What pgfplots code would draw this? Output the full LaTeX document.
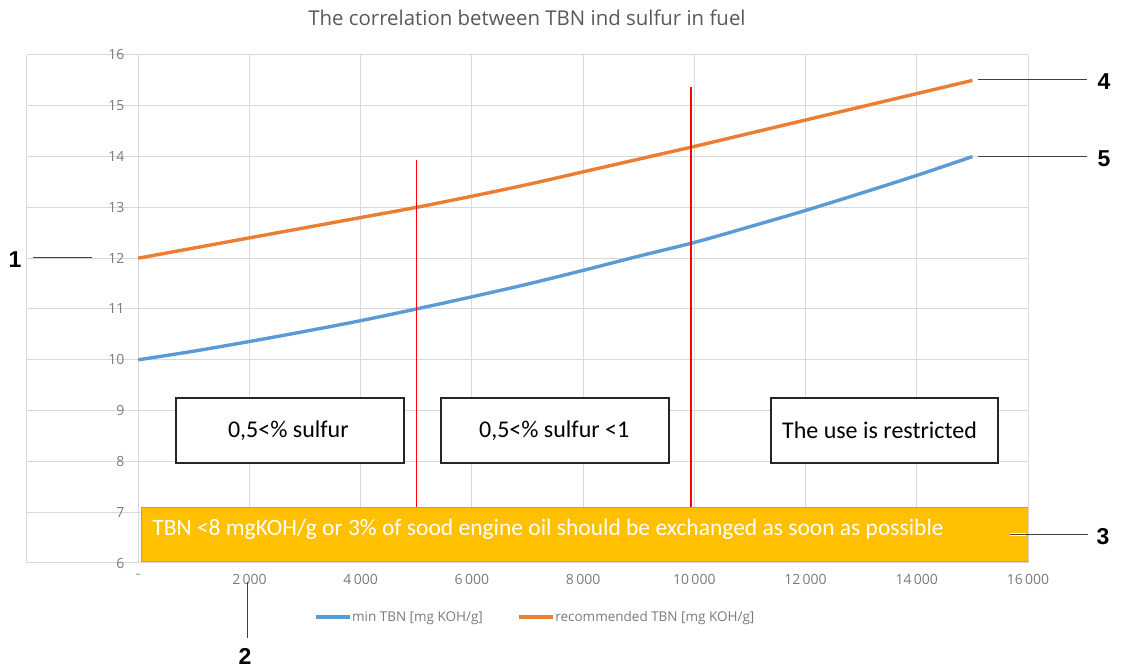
\documentclass[border=0pt]{standalone}
\usepackage{fontspec}
\usepackage{pgfplots}
\pgfplotsset{compat=1.18}
\setmainfont{Carlito}
\newfontfamily\osans{Open Sans}
\newfontfamily\arialb{Liberation Sans}
\definecolor{tbnblue}{HTML}{5B9BD5}
\definecolor{tbnorange}{HTML}{ED7D31}
\definecolor{gridgray}{HTML}{D9D9D9}
\definecolor{labgray}{HTML}{7A7A7A}
\definecolor{titlegray}{HTML}{595959}
\definecolor{boxyellow}{HTML}{FFC000}
\definecolor{boxyedge}{HTML}{D6A21A}
\definecolor{calloutgray}{HTML}{404040}
\definecolor{sepred}{HTML}{FF0000}

\pgfplotstableread{
x      y
0      10.00
1000   10.17
2000   10.36
3000   10.56
4000   10.77
5000   11.00
6000   11.24
7000   11.49
8000   11.76
9000   12.04
10000  12.31
11000  12.62
12000  12.94
13000  13.28
14000  13.63
15000  14.00
}\minTBN

\pgfplotstableread{
x      y
0      12.00
1000   12.20
2000   12.40
3000   12.60
4000   12.80
5000   13.00
6000   13.22
7000   13.45
8000   13.70
9000   13.95
10000  14.20
11000  14.46
12000  14.72
13000  14.98
14000  15.24
15000  15.50
}\recTBN

\begin{document}
\begin{tikzpicture}
\begin{axis}[
  at={(0pt,0pt)}, anchor=south west,
  scale only axis, width=1001pt, height=508pt,
  xmin=-2000, xmax=16000, ymin=6, ymax=16,
  scaled x ticks=false, scaled y ticks=false,
  xtick={-2000,0,2000,4000,6000,8000,10000,12000,14000,16000},
  xticklabels={{},{-},{2\,000},{4\,000},{6\,000},{8\,000},{10\,000},{12\,000},{14\,000},{16\,000}},
  ytick={6,7,8,9,10,11,12,13,14,15,16},
  grid=major,
  major grid style={draw=gridgray, line width=1pt},
  axis line style={draw=none},
  major tick length=0pt,
  tick label style={font=\osans\fontsize{14}{16}\selectfont, text=labgray},
  /pgf/number format/assume math mode=true,
  yticklabel style={xshift=101pt},
  xticklabel style={yshift=-8pt},
  legend style={at={(0.507,-0.106)}, anchor=center, draw=none, fill=none,
    legend columns=2, font=\osans\fontsize{13.5}{15}\selectfont, text=labgray,
    nodes={inner xsep=0.5pt},
    /tikz/every even column/.append style={column sep=34pt}},
  legend image code/.code={\draw[#1] (0pt,0pt) -- (34pt,0pt);},
]
\addplot[tbnblue, line width=3.4pt, smooth] table[x=x,y=y] {\minTBN};
\addlegendentry{min TBN [mg KOH/g]}
\addplot[tbnorange, line width=3.4pt, smooth] table[x=x,y=y] {\recTBN};
\addlegendentry{recommended TBN [mg KOH/g]}

% red separators
\draw[draw=sepred, line width=1.3pt] (axis cs:5000,7.1) -- (axis cs:5000,13.93);
\draw[draw=sepred, line width=1.3pt] (axis cs:9940,7.1) -- (axis cs:9940,15.37);

% boxes
\draw[draw=black!85, line width=2.2pt, fill=white] (axis cs:680,7.97) rectangle (axis cs:4783,9.25);
\node[font=\fontsize{24}{28}\selectfont] at (axis cs:2700,8.61) {0,5<\% sulfur};
\draw[draw=black!85, line width=2.2pt, fill=white] (axis cs:5449,7.97) rectangle (axis cs:9549,9.25);
\node[font=\fontsize{24}{28}\selectfont] at (axis cs:7480,8.61) {0,5<\% sulfur <1};
\draw[draw=black!85, line width=2.2pt, fill=white] (axis cs:11383,7.97) rectangle (axis cs:15465,9.25);
\node[font=\fontsize{24}{28}\selectfont] at (axis cs:13330,8.61) {The use is restricted};

% yellow banner
\draw[draw=boxyedge, line width=1pt, fill=boxyellow] (axis cs:50,6.03) rectangle (axis cs:16000,7.10);
\node[anchor=west, inner sep=0pt, text=white, font=\fontsize{23.5}{28}\selectfont] at (axis cs:250,6.67)
  {TBN <8 mgKOH/g or 3\% of sood engine oil should be exchanged as soon as possible};
\end{axis}

\begin{scope}[x=1pt, y=-1pt, shift={(-27pt,563pt)}]
  \node[text=titlegray, font=\osans\fontsize{20.4}{24}\selectfont] at (527,18) {The correlation between TBN ind sulfur in fuel};
  \draw[calloutgray, line width=1pt] (33,258) -- (92,258);
  \node[font=\arialb\bfseries\fontsize{23}{26}\selectfont] at (15,260) {1};
  \draw[calloutgray, line width=1pt] (247,582) -- (247,638);
  \node[font=\arialb\bfseries\fontsize{23}{26}\selectfont] at (245,656) {2};
  \draw[white, line width=3pt] (1010,535) -- (1026,535);
  \draw[calloutgray, line width=1pt] (1010,535) -- (1088,535);
  \node[font=\arialb\bfseries\fontsize{23}{26}\selectfont] at (1103,537) {3};
  \draw[calloutgray, line width=1pt] (978,80) -- (1087,80);
  \node[font=\arialb\bfseries\fontsize{23}{26}\selectfont] at (1104,82) {4};
  \draw[calloutgray, line width=1pt] (978,157) -- (1087,157);
  \node[font=\arialb\bfseries\fontsize{23}{26}\selectfont] at (1104,159) {5};
  \path (0,0) rectangle (1125,666);
\end{scope}
\end{tikzpicture}
\end{document}
